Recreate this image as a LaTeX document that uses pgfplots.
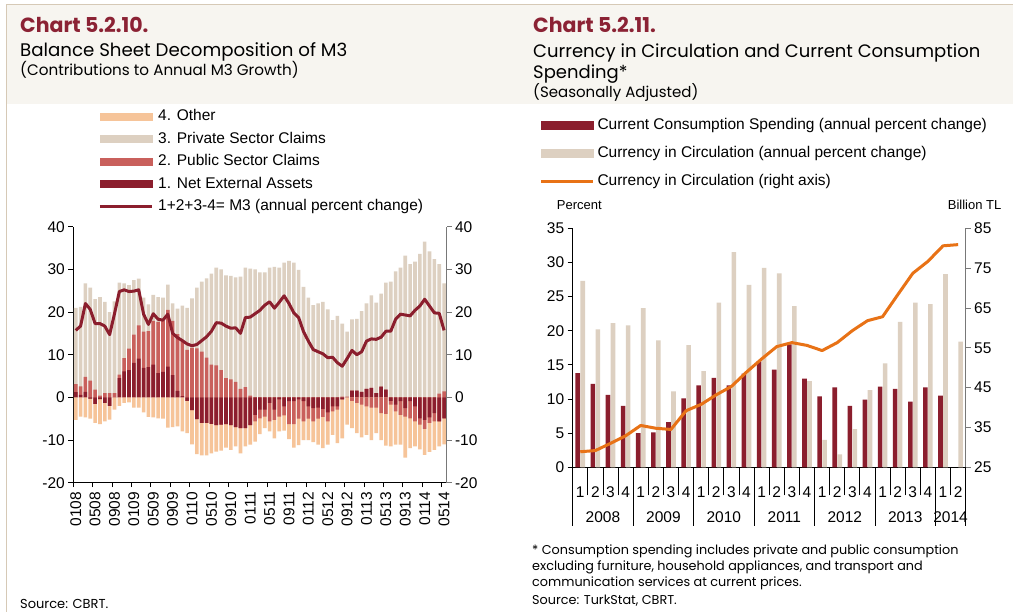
\documentclass[border=0pt]{standalone}
\usepackage{pgfplots}
\pgfplotsset{compat=1.18}
\usepackage{pgfplotstable}
\usepackage{fontspec}
\setmainfont{Liberation Sans}
\newfontfamily\gothic{Poppins}
\definecolor{nea}{RGB}{139,30,45}
\definecolor{pub}{RGB}{201,96,92}
\definecolor{priv}{RGB}{221,208,193}
\definecolor{oth}{RGB}{246,196,153}
\definecolor{orng}{RGB}{232,114,22}
\definecolor{titlered}{RGB}{139,34,52}
\definecolor{band}{RGB}{247,245,240}
\definecolor{bandline}{RGB}{214,201,182}
\definecolor{axgray}{RGB}{120,120,120}

% i: month index from Jan 2008; n: net external assets; p: public sector claims;
% c: private sector claims; o: other (as plotted, negative); m: M3 annual growth
\pgfplotstableread{
i n p c o m
0 1.2 1.9 17.9 -5.3 15.7
1 0.6 2.0 18.6 -4.5 16.7
2 1.3 3.5 21.9 -4.7 22.0
3 -0.3 3.9 21.8 -4.7 20.6
4 -1.5 1.8 21.2 -4.5 17.3
5 -0.4 0.4 23.1 -5.9 17.3
6 -1.3 1.0 21.4 -4.3 16.7
7 -2.0 1.0 19.0 -3.2 14.7
8 0.0 1.0 21.5 -2.9 19.6
9 4.5 0.8 21.6 -2.0 24.8
10 6.1 3.1 17.5 -1.3 25.2
11 6.4 5.0 14.9 -1.2 24.8
12 8.1 6.6 12.8 -2.4 24.9
13 9.1 7.8 10.9 -2.4 25.2
14 6.9 8.5 8.0 -3.5 19.5
15 7.1 8.4 6.3 -4.6 17.1
16 7.7 10.2 6.1 -4.7 19.6
17 5.7 12.0 5.8 -4.9 18.3
18 6.0 11.9 5.5 -5.0 18.1
19 7.2 13.3 5.9 -7.1 19.5
20 5.2 12.7 4.1 -7.0 15.0
21 1.5 13.3 6.0 -6.8 14.0
22 0.3 12.9 8.3 -8.0 13.3
23 -0.8 11.1 9.9 -7.6 12.5
24 -3.0 11.6 11.6 -8.0 12.1
25 -5.1 11.5 14.2 -8.2 12.4
26 -6.0 10.7 16.4 -7.6 13.3
27 -6.0 9.3 18.6 -7.6 14.2
28 -6.2 7.7 21.3 -6.9 15.5
29 -6.5 7.5 22.9 -6.2 17.5
30 -6.4 6.4 23.6 -6.1 17.4
31 -6.3 4.5 24.1 -5.5 16.7
32 -6.5 4.2 24.3 -5.8 16.2
33 -7.0 3.6 24.5 -4.5 16.3
34 -7.2 2.0 26.3 -5.9 15.0
35 -7.2 2.4 28.0 -4.3 18.7
36 -6.5 0.4 29.8 -4.6 18.8
37 -4.1 -1.5 30.0 -4.8 19.6
38 -2.9 -2.0 29.3 -3.7 20.4
39 -2.9 -1.6 29.3 -2.7 21.6
40 -1.3 -4.3 30.4 -2.4 22.4
41 -2.9 -2.4 30.6 -4.3 20.9
42 -0.5 -4.0 30.4 -3.5 22.3
43 -2.1 -2.1 31.6 -3.6 23.8
44 -0.9 -5.4 32.0 -3.5 22.0
45 -0.9 -5.4 31.6 -5.5 19.8
46 -0.5 -4.5 29.9 -6.2 18.7
47 -0.9 -4.7 25.9 -4.4 15.4
48 -2.1 -2.9 23.4 -5.0 13.2
49 -2.5 -3.1 21.6 -4.9 11.2
50 -2.4 -2.6 22.0 -6.1 10.7
51 -2.7 -1.9 22.4 -7.3 10.2
52 -3.5 -2.1 20.6 -5.5 9.3
53 -2.1 -1.2 18.1 -5.5 9.4
54 -2.1 -0.8 19.1 -7.8 8.1
55 -0.5 0.2 17.1 -9.1 7.3
56 0.0 0.2 15.2 -6.4 9.1
57 1.6 -0.8 16.7 -6.4 11.0
58 1.6 -1.3 16.8 -7.1 10.0
59 1.3 -1.7 18.9 -7.7 10.7
60 2.0 -2.1 20.0 -6.7 13.2
61 2.2 -2.4 21.7 -7.6 13.7
62 1.0 -2.4 21.2 -6.0 13.6
63 2.5 -3.7 21.8 -6.3 14.1
64 1.8 -3.9 25.1 -7.4 15.5
65 -0.8 -0.9 27.1 -9.8 15.5
66 -1.7 -1.6 29.5 -7.8 18.3
67 -0.9 -3.2 30.4 -7.0 19.5
68 -2.5 -2.0 33.2 -9.6 19.3
69 -0.9 -4.0 31.2 -7.0 19.1
70 -2.1 -3.5 31.8 -5.9 20.4
71 -4.9 -1.5 33.6 -5.8 21.4
72 -5.3 -2.1 36.5 -6.1 23.0
73 -4.7 -1.3 34.2 -6.8 21.4
74 -3.7 -1.9 32.4 -6.7 19.8
75 -5.6 0.9 30.3 -5.9 19.7
76 -4.9 1.4 25.3 -6.1 15.7
}\mthree

% q: quarter index from 2008Q1; cons: current consumption spending (%);
% cur: currency in circulation (%); lev: currency in circulation (billion TL)
\pgfplotstableread{
q cons cur lev
0 13.8 27.3 28.9
1 12.2 20.2 29.2
2 10.6 21.1 31.0
3 9.0 20.8 32.9
4 5.0 23.3 35.5
5 5.1 18.6 34.8
6 6.6 11.1 34.5
7 10.1 17.9 39.2
8 12.0 14.1 40.8
9 13.1 24.1 43.2
10 12.0 31.5 45.3
11 13.7 26.7 48.9
12 15.5 29.2 52.2
13 14.3 28.4 55.3
14 18.0 23.6 56.3
15 13.0 12.6 55.6
16 10.4 4.0 54.3
17 11.7 1.9 56.3
18 9.0 5.6 59.3
19 9.9 11.3 61.8
20 11.8 15.2 62.8
21 11.5 21.3 68.3
22 9.6 24.1 73.7
23 11.7 23.9 76.7
24 10.5 28.3 80.6
25 nan 18.4 80.9
}\cic

\pgfplotsset{
  every axis/.append style={
    font=\fontsize{15.5}{15.5}\selectfont,
    scale only axis,
    tick align=outside,
    major tick length=5pt,
    every tick/.style={black, line width=0.8pt},
  },
  legbox/.style={legend style={draw=none, fill=none, inner sep=0pt, outer sep=0pt,
    font=\fontsize{15.5}{15.5}\selectfont, column sep=5pt,
    nodes={inner sep=0pt, text height=11.5pt, text depth=3.3pt}},
    legend cell align=left},
}

\begin{document}
\begin{tikzpicture}[x=1pt,y=1pt]
\useasboundingbox (0,0) rectangle (1013,612);
\fill[white] (0,0) rectangle (1013,612);
\fill[band] (6.5,508) rectangle (1013,607.5);
\draw[bandline, line width=1.2pt] (6.5,607.5) -- (1013,607.5);
\draw[bandline, line width=1.2pt] (6.5,607.5) -- (6.5,0);

% ---- titles
\node[anchor=base west, inner sep=0, text=titlered, font=\gothic\bfseries\fontsize{20.5}{20.5}\selectfont] at (20,579) {Chart 5.2.10.};
\node[anchor=base west, inner sep=0, font=\gothic\fontsize{18.2}{18.2}\selectfont] at (20,555) {Balance Sheet Decomposition of M3};
\node[anchor=base west, inner sep=0, font=\gothic\fontsize{15.2}{15.2}\selectfont] at (20,536) {(Contributions to Annual M3 Growth)};
\node[anchor=base west, inner sep=0, text=titlered, font=\gothic\bfseries\fontsize{20.5}{20.5}\selectfont] at (533,579) {Chart 5.2.11.};
\node[anchor=base west, inner sep=0, font=\gothic\fontsize{18}{18}\selectfont] at (533,554) {Currency in Circulation and Current Consumption};
\node[anchor=base west, inner sep=0, font=\gothic\fontsize{18}{18}\selectfont] at (533,533) {Spending*};
\node[anchor=base west, inner sep=0, font=\gothic\fontsize{15}{15}\selectfont] at (533,514) {(Seasonally Adjusted)};

% ---- footers
\node[anchor=base west, inner sep=0, font=\gothic\fontsize{13}{13}\selectfont] at (20,3) {Source: CBRT.};
\node[anchor=base west, inner sep=0, font=\gothic\fontsize{12.8}{12.8}\selectfont] at (532,57.5) {* Consumption spending includes private and public consumption};
\node[anchor=base west, inner sep=0, font=\gothic\fontsize{12.8}{12.8}\selectfont] at (532,41.3) {excluding furniture, household appliances, and transport and};
\node[anchor=base west, inner sep=0, font=\gothic\fontsize{12.8}{12.8}\selectfont] at (532,25.3) {communication services at current prices.};
\node[anchor=base west, inner sep=0, font=\gothic\fontsize{12.8}{12.8}\selectfont] at (532,7.7) {Source: TurkStat, CBRT.};

% ================= LEFT CHART =================
\begin{axis}[
  legbox,
  at={(73.3pt,385.3pt)}, anchor=north west, width=373.2pt, height=256pt,
  xmin=-0.5, xmax=76.5, ymin=-20, ymax=40,
  axis x line*=bottom, axis y line*=left,
  axis line style={black, line width=0.8pt},
  ytick={-20,-10,0,10,20,30,40}, yticklabels={-20,-10,0,10,20,30,40},
  xtick={0,4,...,76},
  xticklabels={0108,0508,0908,0109,0509,0909,0110,0510,0910,0111,0511,0911,0112,0512,0912,0113,0513,0913,0114,0514},
  xticklabel style={rotate=90, anchor=east, inner sep=4pt},
  major x tick style={draw=none},
  extra x ticks={-0.5,3.5,...,75.5}, extra x tick labels={},
  extra x tick style={major x tick style={draw=black, line width=0.8pt}, major tick length=4.5pt},
  legend style={at={(0.068,1.46)}, anchor=north west, row sep=7.8pt},
]
\addplot[ybar, bar width=3.6pt, bar shift=0pt, fill=priv, draw=none, forget plot]
  table[x=i, y expr={max(\thisrow{n},0)+max(\thisrow{p},0)+\thisrow{c}}] {\mthree};
\addplot[ybar, bar width=3.6pt, bar shift=0pt, fill=pub, draw=none, forget plot]
  table[x=i, y expr={max(\thisrow{n},0)+max(\thisrow{p},0)}] {\mthree};
\addplot[ybar, bar width=3.6pt, bar shift=0pt, fill=nea, draw=none, forget plot]
  table[x=i, y expr={max(\thisrow{n},0)}] {\mthree};
\addplot[ybar, bar width=3.6pt, bar shift=0pt, fill=oth, draw=none, forget plot]
  table[x=i, y expr={min(\thisrow{n},0)+min(\thisrow{p},0)+\thisrow{o}}] {\mthree};
\addplot[ybar, bar width=3.6pt, bar shift=0pt, fill=pub, draw=none, forget plot]
  table[x=i, y expr={min(\thisrow{n},0)+min(\thisrow{p},0)}] {\mthree};
\addplot[ybar, bar width=3.6pt, bar shift=0pt, fill=nea, draw=none, forget plot]
  table[x=i, y expr={min(\thisrow{n},0)}] {\mthree};
\addplot[nea, line width=3pt, line join=round, forget plot] table[x=i, y=m] {\mthree};

\addlegendimage{legend image code/.code={\fill[oth] (0pt,-3.5pt) rectangle (52pt,3.5pt);}}
\addlegendentry{4. Other}
\addlegendimage{legend image code/.code={\fill[priv] (0pt,-3.5pt) rectangle (52pt,3.5pt);}}
\addlegendentry{3. Private Sector Claims}
\addlegendimage{legend image code/.code={\fill[pub] (0pt,-3.5pt) rectangle (52pt,3.5pt);}}
\addlegendentry{2. Public Sector Claims}
\addlegendimage{legend image code/.code={\fill[nea] (0pt,-3.5pt) rectangle (52pt,3.5pt);}}
\addlegendentry{1. Net External Assets}
\addlegendimage{legend image code/.code={\draw[nea, line width=2.5pt] (0pt,0pt) -- (52pt,0pt);}}
\addlegendentry{1+2+3-4= M3 (annual percent change)}
\end{axis}

\begin{axis}[
  at={(73.3pt,385.3pt)}, anchor=north west, width=373.2pt, height=256pt,
  xmin=-0.5, xmax=76.5, ymin=-20, ymax=40,
  axis x line=none, axis y line*=right,
  axis line style={axgray, line width=0.8pt},
  ytick={-20,-10,0,10,20,30,40}, yticklabels={-20,-10,0,10,20,30,40},
  every tick/.style={axgray, line width=0.8pt},
]
\end{axis}

% ================= RIGHT CHART =================
\node[anchor=base west, inner sep=0, font=\fontsize{13}{13}\selectfont] at (556.7,402) {Percent};
\node[anchor=base west, inner sep=0, font=\fontsize{13}{13}\selectfont] at (947.7,402) {Billion TL};

\begin{axis}[
  legbox,
  at={(572.7pt,383.7pt)}, anchor=north west, width=393pt, height=239pt,
  xmin=-0.5, xmax=25.5, ymin=0, ymax=35,
  axis x line*=bottom, axis y line*=left,
  axis line style={black, line width=0.8pt},
  ytick={0,5,...,35}, yticklabels={0,5,10,15,20,25,30,35},
  xtick={0,...,25},
  xticklabels={1,2,3,4,1,2,3,4,1,2,3,4,1,2,3,4,1,2,3,4,1,2,3,4,1,2},
  xticklabel style={anchor=base, yshift=-25pt},
  major x tick style={draw=none},
  extra x ticks={-0.5,0.5,...,25.5}, extra x tick labels={},
  extra x tick style={major x tick style={draw=black, line width=0.8pt}, major tick length=28pt},
  legend style={at={(-0.0832,1.4615)}, anchor=north west, row sep=13.2pt, column sep=3pt},
  clip=false,
]
\addplot[ybar, bar width=4.6pt, bar shift=-2.5pt, fill=nea, draw=none, forget plot] table[x=q, y=cons] {\cic};
\addplot[ybar, bar width=4.6pt, bar shift=2.5pt, fill=priv, draw=none, forget plot] table[x=q, y=cur] {\cic};
\foreach \b in {-0.5,3.5,7.5,11.5,15.5,19.5,23.5,25.5} {
  \edef\tmp{\noexpand\draw[black, line width=0.8pt] (axis cs:\b,0) -- ++(0pt,-59pt);}\tmp
}
\foreach \x/\yr in {1.5/2008,5.5/2009,9.5/2010,13.5/2011,17.5/2012,21.5/2013,24.5/2014} {
  \edef\tmp{\noexpand\node[anchor=base, inner sep=0pt] at (axis cs:\x,0) [yshift=-55pt] {\yr};}\tmp
}
\addlegendimage{legend image code/.code={\fill[nea] (0pt,-4.3pt) rectangle (52pt,4.3pt);}}
\addlegendentry{Current Consumption Spending (annual percent change)}
\addlegendimage{legend image code/.code={\fill[priv] (0pt,-4.3pt) rectangle (52pt,4.3pt);}}
\addlegendentry{Currency in Circulation (annual percent change)}
\addlegendimage{legend image code/.code={\draw[orng, line width=2.5pt] (0pt,0pt) -- (52pt,0pt);}}
\addlegendentry{Currency in Circulation (right axis)}
\end{axis}

\begin{axis}[
  at={(572.7pt,383.7pt)}, anchor=north west, width=393pt, height=239pt,
  xmin=-0.5, xmax=25.5, ymin=25, ymax=85,
  axis x line=none, axis y line*=right,
  axis line style={axgray, line width=0.8pt},
  ytick={25,35,...,85}, yticklabels={25,35,45,55,65,75,85},
  every tick/.style={axgray, line width=0.8pt},
]
\addplot[orng, line width=3pt, line join=round] table[x=q, y=lev] {\cic};
\end{axis}
\end{tikzpicture}
\end{document}
